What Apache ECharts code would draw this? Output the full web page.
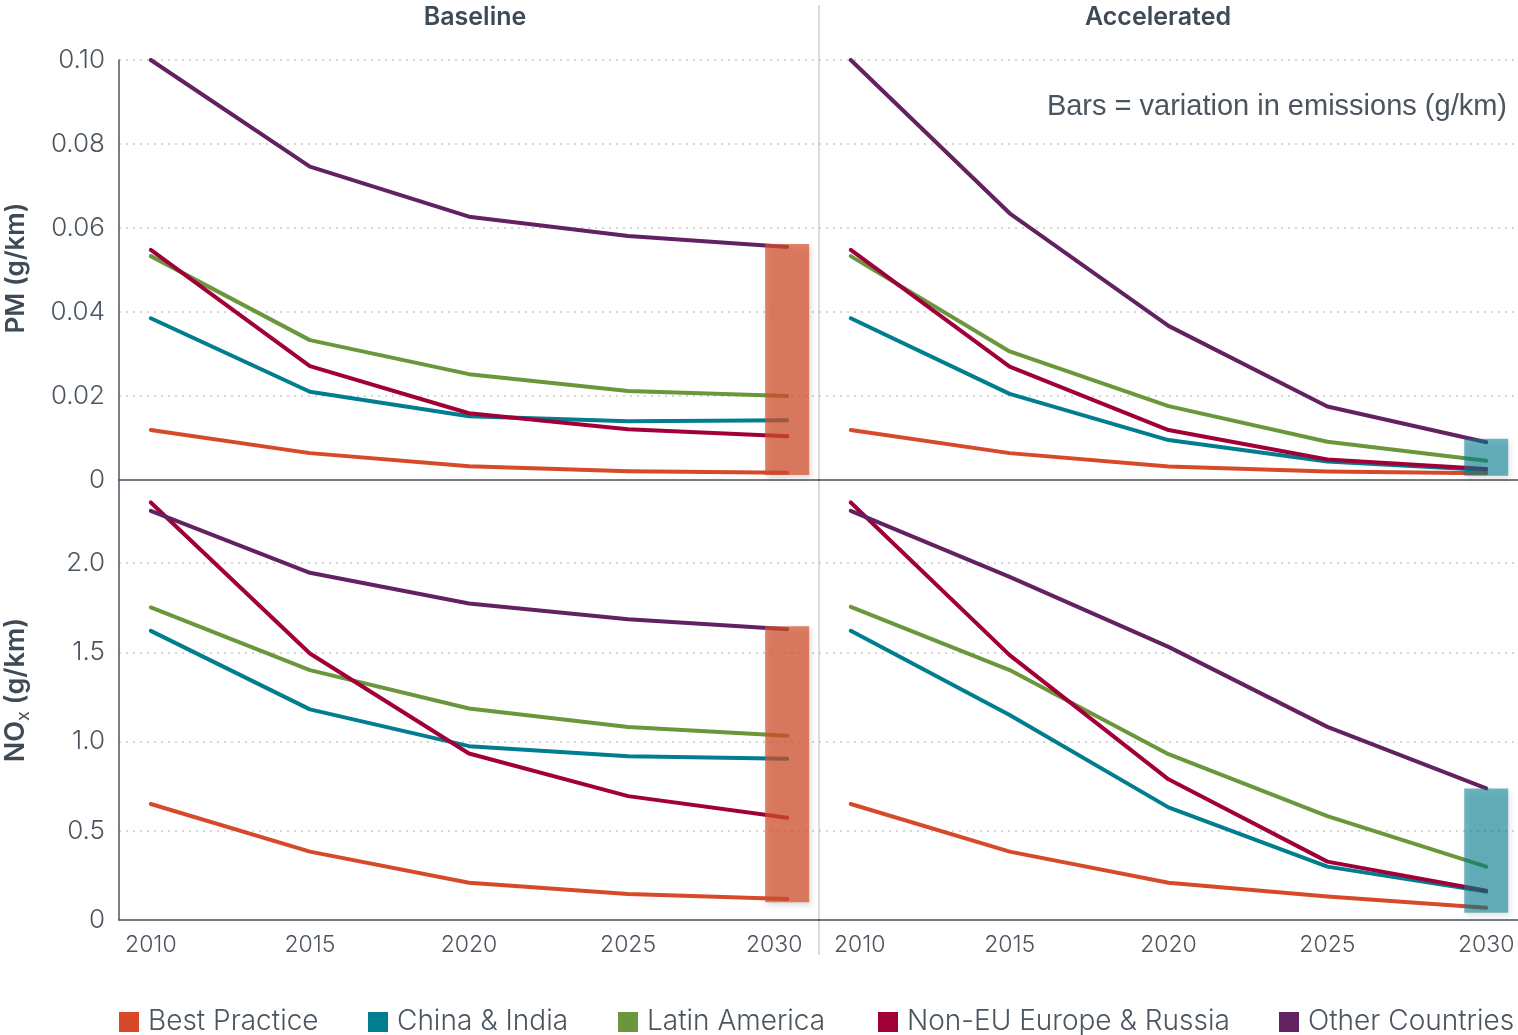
<!DOCTYPE html>
<html>
<head>
<meta charset="utf-8">
<script src="https://cdn.jsdelivr.net/npm/echarts@6/dist/echarts.min.js"></script>
<style>
  html, body { margin: 0; padding: 0; background: #ffffff; }
  #chart { width: 1518px; height: 1035px; }
</style>
</head>
<body>
<div id="chart"></div>
<script>
// Model years on the x axis
const years = [2010, 2015, 2020, 2025, 2030];
const regions = ['Best Practice', 'China & India', 'Latin America', 'Non-EU Europe & Russia', 'Other Countries'];
const regionColors = ['#d64a29', '#007d8e', '#6a963c', '#a00037', '#622160'];

// PM emission factors (g/km), Baseline scenario
const pmBaseBest   = [0.0119, 0.0064, 0.0033, 0.0021, 0.0017];
const pmBaseChina  = [0.0385, 0.0210, 0.0152, 0.0140, 0.0142];
const pmBaseLatin  = [0.0533, 0.0333, 0.0252, 0.0212, 0.0200];
const pmBaseNonEU  = [0.0548, 0.0271, 0.0159, 0.0121, 0.0104];
const pmBaseOther  = [0.1000, 0.0746, 0.0627, 0.0581, 0.0555];

// PM emission factors (g/km), Accelerated scenario
const pmAccBest    = [0.0119, 0.0064, 0.0032, 0.0020, 0.0016];
const pmAccChina   = [0.0385, 0.0205, 0.0095, 0.0044, 0.0024];
const pmAccLatin   = [0.0533, 0.0306, 0.0176, 0.0091, 0.0046];
const pmAccNonEU   = [0.0548, 0.0270, 0.0119, 0.0049, 0.0026];
const pmAccOther   = [0.1000, 0.0635, 0.0367, 0.0175, 0.0090];

// NOx emission factors (g/km), Baseline scenario
const noxBaseBest  = [0.650, 0.383, 0.209, 0.146, 0.118];
const noxBaseChina = [1.620, 1.180, 0.974, 0.918, 0.903];
const noxBaseLatin = [1.751, 1.400, 1.185, 1.081, 1.032];
const noxBaseNonEU = [2.339, 1.493, 0.933, 0.694, 0.573];
const noxBaseOther = [2.292, 1.945, 1.773, 1.685, 1.629];

// NOx emission factors (g/km), Accelerated scenario
const noxAccBest   = [0.650, 0.383, 0.209, 0.131, 0.069];
const noxAccChina  = [1.620, 1.148, 0.631, 0.299, 0.159];
const noxAccLatin  = [1.754, 1.400, 0.929, 0.582, 0.299];
const noxAccNonEU  = [2.339, 1.484, 0.788, 0.327, 0.164];
const noxAccOther  = [2.292, 1.922, 1.530, 1.082, 0.737];

// 2030 spread of emissions across regions: [year, low, high]
const pmBaseRange  = [2030, 0.0012, 0.0562];
const pmAccRange   = [2030, 0.0010, 0.0098];
const noxBaseRange = [2030, 0.100, 1.646];
const noxAccRange  = [2030, 0.040, 0.737];

// Axis ticks
const yearTicks = [2010, 2015, 2020, 2025, 2030];
const pmMax = 0.10, pmStep = 0.02;
const noxMax = 2.465, noxStep = 0.5;

const FONT = 'Inter, "Noto Sans", sans-serif';
const TEXT = '#4a5560';
const HEAD = '#3e4a55';
const GRIDC = '#c9c9c9';

const panels = [
  { rows: [pmBaseBest, pmBaseChina, pmBaseLatin, pmBaseNonEU, pmBaseOther], range: pmBaseRange, barColor: 'rgba(214,80,45,0.72)' },
  { rows: [pmAccBest, pmAccChina, pmAccLatin, pmAccNonEU, pmAccOther], range: pmAccRange, barColor: 'rgba(0,130,150,0.57)' },
  { rows: [noxBaseBest, noxBaseChina, noxBaseLatin, noxBaseNonEU, noxBaseOther], range: noxBaseRange, barColor: 'rgba(214,80,45,0.72)' },
  { rows: [noxAccBest, noxAccChina, noxAccLatin, noxAccNonEU, noxAccOther], range: noxAccRange, barColor: 'rgba(0,130,150,0.57)' }
];

const grids = [
  { left: 119, top: 60,  width: 700, height: 420 },
  { left: 819, top: 60,  width: 700, height: 420 },
  { left: 119, top: 480, width: 700, height: 440 },
  { left: 819, top: 480, width: 700, height: 440 }
];

function xAxisFor(i) {
  const bottom = i >= 2;
  return {
    type: 'value', gridIndex: i, min: 2009, max: 2031,
    splitLine: { show: false },
    axisTick: { show: false },
    axisLine: { show: true, onZero: false, lineStyle: { color: '#4a5560', width: 1.5 } },
    axisLabel: {
      show: bottom,
      customValues: yearTicks,
      margin: 14,
      fontFamily: FONT, fontSize: 23, fontWeight: 300, color: TEXT,
      formatter: function (v) {
        if (i === 2 && v === 2030) return '{l|2030}';
        if (i === 3 && v === 2010) return '{r|2010}';
        return String(v);
      },
      rich: {
        l: { fontFamily: FONT, fontSize: 23, fontWeight: 300, color: TEXT, padding: [0, 26, 0, 0] },
        r: { fontFamily: FONT, fontSize: 23, fontWeight: 300, color: TEXT, padding: [0, 0, 0, 18] }
      }
    }
  };
}

function yAxisFor(i) {
  const isPM = i < 2;
  const left = i % 2 === 0;
  return {
    type: 'value', gridIndex: i, min: 0,
    max: isPM ? pmMax : noxMax,
    interval: isPM ? pmStep : noxStep,
    axisTick: { show: false },
    axisLine: { show: left, lineStyle: { color: '#4a5560', width: 1.5 } },
    splitLine: { show: true, showMaxLine: isPM, lineStyle: { color: GRIDC, type: [2, 5], width: 1.5 } },
    axisLabel: {
      show: left, margin: 14, showMaxLabel: isPM,
      fontFamily: FONT, fontSize: 26, fontWeight: 300, color: TEXT,
      formatter: function (v) {
        if (v === 0) return '0';
        return isPM ? v.toFixed(2) : v.toFixed(1);
      }
    }
  };
}

const series = [];
panels.forEach(function (p, i) {
  p.rows.forEach(function (row, r) {
    series.push({
      name: regions[r], type: 'line', xAxisIndex: i, yAxisIndex: i,
      data: years.map(function (y, k) { return [y, row[k]]; }),
      symbol: 'none', color: regionColors[r],
      lineStyle: { width: 4, cap: 'round', join: 'round' },
      z: 2
    });
  });
  series.push({
    type: 'custom', xAxisIndex: i, yAxisIndex: i, z: 5, silent: true,
    data: [p.range],
    renderItem: function (params, api) {
      const hiPt = api.coord([api.value(0), api.value(2)]);
      const loPt = api.coord([api.value(0), api.value(1)]);
      const w = 44;
      return {
        type: 'rect',
        shape: { x: hiPt[0] - w / 2, y: hiPt[1], width: w, height: loPt[1] - hiPt[1] },
        style: {
          fill: p.barColor,
          shadowBlur: 6, shadowOffsetX: 2, shadowOffsetY: 3,
          shadowColor: 'rgba(0,0,0,0.2)'
        }
      };
    }
  });
});

// One legend per entry, laid out along the bottom
const legendLefts = [119, 368, 618, 878, 1279];
const legends = regions.map(function (name, r) {
  return {
    data: [name], left: legendLefts[r], top: 1008, padding: 0,
    itemWidth: 20, itemHeight: 20, icon: 'rect',
    itemStyle: { color: regionColors[r] },
    selectedMode: false,
    textStyle: { fontFamily: FONT, fontSize: 28, fontWeight: 300, color: TEXT, padding: [0, 0, 0, 4] }
  };
});

const chart = echarts.init(document.getElementById('chart'), null, { renderer: 'canvas' });
chart.setOption({
  backgroundColor: '#ffffff',
  animation: false,
  grid: grids,
  xAxis: [0, 1, 2, 3].map(xAxisFor),
  yAxis: [0, 1, 2, 3].map(yAxisFor),
  legend: legends,
  series: series,
  graphic: [
    { type: 'line', z: 0, shape: { x1: 819, y1: 5, x2: 819, y2: 955 },
      style: { stroke: '#cfcfcf', lineWidth: 1.5 } },
    { type: 'text', x: 475, y: 17,
      style: { text: 'Baseline', font: '600 25px ' + FONT, fill: HEAD, align: 'center', verticalAlign: 'middle' } },
    { type: 'text', x: 1158, y: 17,
      style: { text: 'Accelerated', font: '600 25px ' + FONT, fill: HEAD, align: 'center', verticalAlign: 'middle' } },
    { type: 'text', x: 1507, y: 107,
      style: { text: 'Bars = variation in emissions (g/km)', font: '29px "Liberation Sans", Arial, sans-serif',
               fill: '#4a5560', align: 'right', verticalAlign: 'middle' } },
    { type: 'text', x: 16, y: 268, rotation: Math.PI / 2,
      style: { text: 'PM (g/km)', font: '600 26px ' + FONT, fill: HEAD, align: 'center', verticalAlign: 'middle' } },
    { type: 'text', x: 16, y: 690, rotation: Math.PI / 2,
      style: {
        text: '{m|NO}{s|x}{m| (g/km)}', align: 'center', verticalAlign: 'middle',
        rich: {
          m: { font: '600 27px ' + FONT, fill: HEAD, lineHeight: 34 },
          s: { font: '18px ' + FONT, fill: HEAD, lineHeight: 34, verticalAlign: 'bottom', padding: [13, 0, 0, 0] }
        }
      } }
  ]
});
</script>
</body>
</html>
